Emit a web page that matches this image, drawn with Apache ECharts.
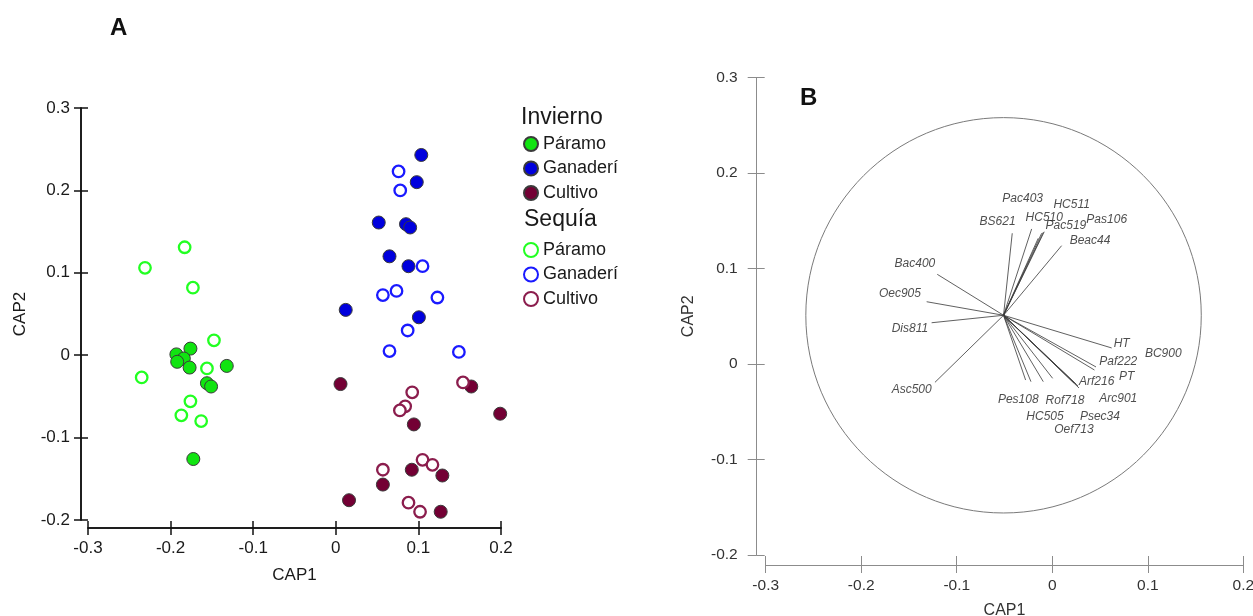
<!DOCTYPE html>
<html>
<head>
<meta charset="utf-8">
<script src="https://cdn.jsdelivr.net/npm/echarts@6/dist/echarts.min.js"></script>
<style>
html,body{margin:0;padding:0;background:#fff;}
#chart{width:1253px;height:616px;}
</style>
</head>
<body>
<div id="chart"></div>
<script>
// ---------- Panel A data: [CAP1, CAP2] ----------
const inviernoParamo = [[-0.193,0.001],[-0.176,0.008],[-0.184,-0.004],[-0.192,-0.008],[-0.177,-0.015],[-0.132,-0.013],[-0.156,-0.034],[-0.151,-0.038],[-0.1725,-0.126]];
const inviernoGanaderia = [[0.1035,0.243],[0.098,0.210],[0.052,0.161],[0.085,0.159],[0.090,0.155],[0.065,0.120],[0.088,0.108],[0.012,0.055],[0.1006,0.046]];
const inviernoCultivo = [[0.0057,-0.035],[0.164,-0.038],[0.199,-0.071],[0.0945,-0.084],[0.092,-0.139],[0.129,-0.146],[0.057,-0.157],[0.016,-0.176],[0.127,-0.190]];
const sequiaParamo = [[-0.183,0.131],[-0.231,0.106],[-0.173,0.082],[-0.1475,0.018],[-0.156,-0.016],[-0.235,-0.027],[-0.176,-0.056],[-0.187,-0.073],[-0.163,-0.080]];
const sequiaGanaderia = [[0.076,0.223],[0.078,0.200],[0.105,0.108],[0.0735,0.078],[0.057,0.073],[0.123,0.070],[0.087,0.030],[0.065,0.005],[0.149,0.004]];
const sequiaCultivo = [[0.154,-0.033],[0.0925,-0.045],[0.084,-0.062],[0.0776,-0.067],[0.105,-0.127],[0.117,-0.133],[0.057,-0.139],[0.088,-0.179],[0.102,-0.190]];
const groupNames = ['Páramo','Ganaderí','Cultivo'];
const seasonNames = ['Invierno','Sequía'];

// ---------- Panel B data ----------
const vectorOrigin = [-0.051, 0.051];
const vectorNames = ['BS621','HC510','Pac403','HC511','Pas106','Pac519','Beac44','Bac400','Oec905','Dis811','Asc500','HT','Paf222','BC900','Arf216','PT','Arc901','Psec34','Oef713','Rof718','HC505','Pes108'];
const vectorEnds = [[-0.0419,0.1369],[-0.0216,0.1414],[-0.0111,0.1369],[-0.0094,0.1379],[-0.0084,0.1385],[-0.0147,0.1316],[0.0098,0.1239],[-0.1204,0.0939],[-0.1315,0.0652],[-0.1263,0.0432],[-0.1228,-0.0192],[0.0622,0.0168],[0.0442,-0.0063],[0.0458,-0.0031],[0.0227,-0.0199],[0.0248,-0.0209],[0.0269,-0.0230],[0.0280,-0.0251],[0.0004,-0.0150],[-0.0094,-0.0185],[-0.0223,-0.0185],[-0.0279,-0.0168]];
const labelAnchors = [[-0.0572,0.1490],[-0.0084,0.1536],[-0.0310,0.1735],[0.0203,0.1665],[0.0570,0.1508],[0.0143,0.1445],[0.0395,0.1288],[-0.1438,0.1047],[-0.1595,0.0740],[-0.1490,0.0374],[-0.1472,-0.0272],[0.0727,0.0217],[0.0691,0.0024],[0.1162,0.0112],[0.0465,-0.0185],[0.0779,-0.0133],[0.0691,-0.0359],[0.0499,-0.0552],[0.0227,-0.0691],[0.0133,-0.0384],[-0.0076,-0.0552],[-0.0356,-0.0377]];
const circleRadius = 0.207;

const xTicksA = [-0.3, 0.2, 0.1];   // min, max, interval
const yTicksA = [-0.2, 0.3, 0.1];
const xTicksB = [-0.3, 0.2, 0.1];
const yTicksB = [-0.2, 0.3, 0.1];

const FONT = "'Liberation Sans', Arial, sans-serif";
const fmt = v => Math.abs(v) < 1e-9 ? '0' : String(+v.toFixed(1));

const colors = {
  fill: ['#11e411', '#0000dd', '#730034'],
  ring: ['#22ff22', '#1a1aff', '#8b1d4d']
};

function axisPair(dim, gridIndex, ticks, opts) {
  const base = {
    type: 'value', gridIndex, min: ticks[0], max: ticks[1], interval: ticks[2],
    offset: opts.offset, splitLine: {show: false},
    axisLine: {show: true, onZero: false, lineStyle: {color: opts.color, width: opts.lineWidth}},
  };
  const main = Object.assign({}, base, {
    axisTick: {show: true, inside: false, length: opts.tick, lineStyle: {color: opts.color, width: opts.lineWidth}},
    axisLabel: {show: true, formatter: fmt, margin: opts.margin, fontSize: opts.fontSize, color: opts.labelColor, fontFamily: FONT},
    name: opts.name, nameLocation: 'middle', nameGap: opts.nameGap,
    nameTextStyle: {fontSize: opts.nameSize, color: opts.labelColor, fontFamily: FONT}
  });
  const inner = Object.assign({}, base, {
    axisTick: {show: true, inside: true, length: opts.tickIn, lineStyle: {color: opts.color, width: opts.lineWidth}},
    axisLabel: {show: false}
  });
  if (dim === 'y') { main.position = 'left'; inner.position = 'left'; }
  else { main.position = 'bottom'; inner.position = 'bottom'; }
  return [main, inner];
}

const xA = axisPair('x', 0, xTicksA, {offset: 8, color: '#111', lineWidth: 1.5, tick: 7, tickIn: 7, margin: 12, fontSize: 17, labelColor: '#1a1a1a', name: 'CAP1', nameGap: 39, nameSize: 17});
const yA = axisPair('y', 0, yTicksA, {offset: 7, color: '#111', lineWidth: 1.5, tick: 7, tickIn: 7, margin: 11, fontSize: 17, labelColor: '#1a1a1a', name: 'CAP2', nameGap: 52, nameSize: 17});
const xB = axisPair('x', 1, xTicksB, {offset: 10, color: '#8c8c8c', lineWidth: 1, tick: 8, tickIn: 9, margin: 13, fontSize: 15.5, labelColor: '#333', name: 'CAP1', nameGap: 38, nameSize: 16});
const yB = axisPair('y', 1, yTicksB, {offset: 9, color: '#8c8c8c', lineWidth: 1, tick: 9, tickIn: 8, margin: 19, fontSize: 15.5, labelColor: '#333', name: 'CAP2', nameGap: 60, nameSize: 16});

const seriesA = [];
const filled = [inviernoParamo, inviernoGanaderia, inviernoCultivo];
const open = [sequiaParamo, sequiaGanaderia, sequiaCultivo];
filled.forEach((d, i) => {
  seriesA.push({
    type: 'scatter', name: seasonNames[0] + '|' + groupNames[i], xAxisIndex: 0, yAxisIndex: 0,
    data: d, symbol: 'circle', symbolSize: 13,
    itemStyle: {color: colors.fill[i], borderColor: '#3a3a3a', borderWidth: 1, opacity: 1},
    silent: true, z: 3
  });
});
open.forEach((d, i) => {
  seriesA.push({
    type: 'scatter', name: seasonNames[1] + '|' + groupNames[i], xAxisIndex: 0, yAxisIndex: 0,
    data: d, symbol: 'circle', symbolSize: 11.5,
    itemStyle: {color: '#ffffff', borderColor: colors.ring[i], borderWidth: 2.3, opacity: 1},
    silent: true, z: 4
  });
});

const legendCommon = {
  orient: 'vertical', left: 523, itemWidth: 14, itemHeight: 14, itemGap: 6.5, padding: 0,
  textStyle: {fontSize: 18, color: '#1a1a1a', fontFamily: FONT},
  formatter: n => n.split('|')[1], selectedMode: false
};

const option = {
  animation: false,
  backgroundColor: '#fff',
  textStyle: {fontFamily: FONT},
  grid: [
    {left: 88, top: 108, width: 413, height: 412, outerBoundsMode: 'none', containLabel: false},
    {left: 765.7, top: 77.5, width: 477.6, height: 477.5, outerBoundsMode: 'none', containLabel: false}
  ],
  xAxis: [xA[0], xA[1], xB[0], xB[1]],
  yAxis: [yA[0], yA[1], yB[0], yB[1]],
  title: [
    {text: 'A', left: 105, top: 11, textStyle: {fontSize: 24, fontWeight: 'bold', color: '#111', fontFamily: FONT}},
    {text: 'B', left: 795, top: 81, textStyle: {fontSize: 24, fontWeight: 'bold', color: '#111', fontFamily: FONT}},
    {text: seasonNames[0], left: 521, top: 106, padding: 0, textStyle: {fontSize: 23, fontWeight: 'normal', color: '#1a1a1a', fontFamily: FONT}},
    {text: seasonNames[1], left: 524, top: 208, padding: 0, textStyle: {fontSize: 23, fontWeight: 'normal', color: '#1a1a1a', fontFamily: FONT}}
  ],
  legend: [
    Object.assign({}, legendCommon, {top: 135, data: groupNames.map(g => seasonNames[0] + '|' + g)}),
    Object.assign({}, legendCommon, {top: 241, data: groupNames.map(g => seasonNames[1] + '|' + g)})
  ],
  series: seriesA.concat([
    {
      type: 'custom', xAxisIndex: 2, yAxisIndex: 2, silent: true, clip: false,
      data: [[vectorOrigin[0], vectorOrigin[1], circleRadius]],
      renderItem: function (params, api) {
        const c = api.coord([api.value(0), api.value(1)]);
        const r = api.size([api.value(2), api.value(2)]);
        return {type: 'ellipse', shape: {cx: c[0], cy: c[1], rx: r[0], ry: r[1]},
          style: {fill: 'none', stroke: '#7a7a7a', lineWidth: 1}};
      }
    },
    {
      type: 'lines', coordinateSystem: 'cartesian2d', xAxisIndex: 2, yAxisIndex: 2, silent: true,
      data: vectorEnds.map((e, i) => ({name: vectorNames[i], coords: [vectorOrigin, e]})),
      lineStyle: {color: '#3a3a3a', width: 0.9, opacity: 0.9}, symbol: 'none'
    },
    {
      type: 'scatter', xAxisIndex: 2, yAxisIndex: 2, silent: true, symbolSize: 0,
      data: labelAnchors.map((p, i) => ({name: vectorNames[i], value: p})),
      label: {show: true, position: 'inside', formatter: p => p.name, fontSize: 12, fontStyle: 'italic', color: '#222', fontFamily: FONT},
      itemStyle: {color: 'transparent'}
    }
  ])
};

const chart = echarts.init(document.getElementById('chart'), null, {renderer: 'canvas'});
chart.setOption(option);
</script>
</body>
</html>
